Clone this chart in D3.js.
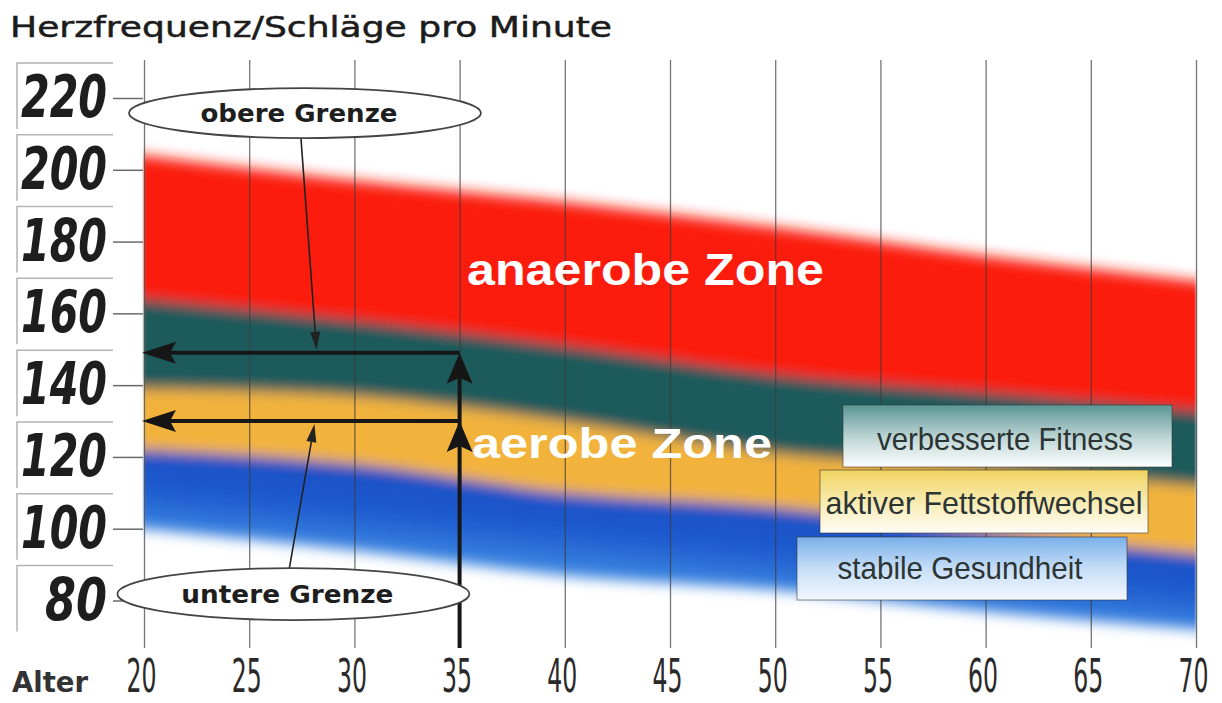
<!DOCTYPE html>
<html>
<head>
<meta charset="utf-8">
<script src="https://cdn.jsdelivr.net/npm/d3@7"></script>
<style>
  html, body { margin: 0; background: #fff; }
  svg { display: block; }
</style>
</head>
<body>
<svg id="chart" width="1222" height="703"></svg>
<script>
// Heart-rate training zones by age (beats per minute)
const ages         = [20, 30, 40, 50, 60, 70];
const anaerobeTop  = [204, 197, 191, 184, 176, 169];
const anaerobeLow  = [164, 158, 151, 143, 138, 133];
const fitnessLow   = [139, 137, 130, 121, 117, 112];
const fatBurnLow   = [122, 118, 110, 106, 99, 93];
const healthLow    = [100, 94, 87, 83, 77, 72];

const yTicks = [80, 100, 120, 140, 160, 180, 200, 220];
const xTicks = [20, 25, 30, 35, 40, 45, 50, 55, 60, 65, 70];

// Worked example: a 35-year-old
const exampleAge  = 35;
const upperLimit  = 149;
const lowerLimit  = 130;

const titleText   = "Herzfrequenz/Schläge pro Minute";
const xAxisLabel  = "Alter";
const zoneNames   = ["anaerobe Zone", "aerobe Zone"];
const limitNames  = ["obere Grenze", "untere Grenze"];
const legendNames = ["verbesserte Fitness", "aktiver Fettstoffwechsel", "stabile Gesundheit"];

const svg = d3.select("#chart");
const x = d3.scaleLinear().domain([20, 70]).range([144, 1196]);
const y = d3.scaleLinear().domain([80, 220]).range([600.5, 98]);

const rows = ages.map((a, i) => ({
  age: a, top: anaerobeTop[i], ana: anaerobeLow[i], fit: fitnessLow[i],
  fat: fatBurnLow[i], low: healthLow[i]
}));

const defs = svg.append("defs");
defs.append("filter").attr("id", "soft")
  .attr("x", "-2%").attr("y", "-20%").attr("width", "104%").attr("height", "140%")
  .append("feGaussianBlur").attr("stdDeviation", "1.2 7");

// blue lightens towards its lower edge: a vertical gradient skewed along the band's slope
const last = ages.length - 1;
const xa = x(ages[0]), xb = x(ages[last]);
const slope = ((y(fatBurnLow[last]) + y(healthLow[last])) - (y(fatBurnLow[0]) + y(healthLow[0]))) / 2 / (xb - xa);
const skewDeg = Math.atan(slope) * 180 / Math.PI;
const blueGrad = defs.append("linearGradient").attr("id", "blueShade")
  .attr("gradientUnits", "userSpaceOnUse")
  .attr("gradientTransform", `skewY(${skewDeg})`)
  .attr("x1", 0).attr("x2", 0)
  .attr("y1", y(fatBurnLow[0]) - slope * xa)
  .attr("y2", y(healthLow[0]) - slope * xa);
blueGrad.append("stop").attr("offset", "0%").attr("stop-color", "#1b50c4");
blueGrad.append("stop").attr("offset", "50%").attr("stop-color", "#1e5bcf");
blueGrad.append("stop").attr("offset", "100%").attr("stop-color", "#3a84e0");

// ---- coloured zone bands ----
const bands = [
  { hi: "top", lo: "ana", color: "#fb1b0e" },
  { hi: "ana", lo: "fit", color: "#1b5a5c" },
  { hi: "fit", lo: "fat", color: "#f2b33c" },
  { hi: "fat", lo: "low", color: "url(#blueShade)" }
];
const gBands = svg.append("g").attr("filter", "url(#soft)");
bands.forEach(b => {
  const area = d3.area()
    .x(d => x(d.age))
    .y0(d => y(d[b.lo]))
    .y1(d => y(d[b.hi]))
    .curve(d3.curveMonotoneX);
  gBands.append("path").datum(rows).attr("d", area).attr("fill", b.color);
});

// ---- y axis with framed LCD-style labels ----
const gFrames = svg.append("g");
yTicks.forEach(v => {
  const t = y(v) - 35;
  gFrames.append("path")
    .attr("d", `M17,${t + 66}V${t}H113`)
    .attr("fill", "none").attr("stroke", "#b4b4b4").attr("stroke-width", 1.5);
});
const yAxis = svg.append("g").attr("transform", "translate(143,0)")
  .call(d3.axisLeft(y).tickValues(yTicks).tickSize(30).tickPadding(6));
yAxis.select(".domain").remove();
yAxis.selectAll(".tick line").attr("stroke", "#6a6a6a").attr("stroke-width", 1.5);
yAxis.selectAll(".tick text")
  .attr("font-family", "'DejaVu Sans Condensed', 'DejaVu Sans', sans-serif")
  .attr("font-style", "italic")
  .attr("font-weight", "bold")
  .attr("font-size", 58)
  .attr("fill", "#1e1e1e")
  .attr("textLength", d => String(d).length === 3 ? 86 : 62)
  .attr("lengthAdjust", "spacingAndGlyphs");

// ---- x axis: vertical grid lines + tall condensed age labels ----
const xAxis = svg.append("g").attr("transform", "translate(0,648)")
  .call(d3.axisBottom(x).tickValues(xTicks).tickSize(-588).tickPadding(0).tickFormat(d3.format("d")));
xAxis.select(".domain").remove();
xAxis.selectAll(".tick line").attr("stroke", "#3a3a3a").attr("stroke-opacity", 0.7).attr("stroke-width", 1.3);
const stretch = 1.15;
xAxis.selectAll(".tick text")
  .attr("x", -3)
  .attr("y", 44 / stretch).attr("dy", null)
  .attr("transform", `scale(1,${stretch})`)
  .attr("font-family", "'DejaVu Sans Condensed', 'DejaVu Sans', sans-serif")
  .attr("font-size", 40)
  .attr("fill", "#2a2a2a")
  .attr("textLength", 30)
  .attr("lengthAdjust", "spacingAndGlyphs");

svg.append("text").attr("x", 12).attr("y", 692)
  .attr("font-family", "'DejaVu Sans', sans-serif").attr("font-weight", "bold")
  .attr("font-size", 28).attr("fill", "#333")
  .attr("textLength", 76).attr("lengthAdjust", "spacingAndGlyphs")
  .text(xAxisLabel);

svg.append("text").attr("x", 10).attr("y", 37)
  .attr("font-family", "'DejaVu Sans', sans-serif")
  .attr("font-size", 28).attr("fill", "#1c1c1c")
  .attr("stroke", "#1c1c1c").attr("stroke-width", 0.5)
  .attr("textLength", 602).attr("lengthAdjust", "spacingAndGlyphs")
  .text(titleText);

// ---- zone names ----
const zoneFont = "'Liberation Sans', Arial, sans-serif";
svg.append("text").attr("x", 467).attr("y", 285)
  .attr("font-family", zoneFont).attr("font-weight", "bold").attr("font-size", 44)
  .attr("fill", "#fff").attr("textLength", 357).attr("lengthAdjust", "spacingAndGlyphs")
  .text(zoneNames[0]);
svg.append("text").attr("x", 472).attr("y", 458)
  .attr("font-family", zoneFont).attr("font-weight", "bold").attr("font-size", 42)
  .attr("fill", "#fff").attr("textLength", 300).attr("lengthAdjust", "spacingAndGlyphs")
  .text(zoneNames[1]);

// ---- legend boxes ----
const legendBoxes = [
  { x: 843, y: 405, w: 329, h: 62, base: 450, cx: 1005, tl: 256, stops: ["#5a9594", "#b9d3d2", "#ffffff"] },
  { x: 820, y: 470, w: 328, h: 63, base: 514, cx: 984, tl: 317, stops: ["#f0d35f", "#f8ebb0", "#fffdf6"] },
  { x: 797, y: 537, w: 330, h: 63, base: 579, cx: 960, tl: 245, stops: ["#79afea", "#c6def7", "#f3f8ff"] }
];
legendBoxes.forEach((b, i) => {
  const gid = "lg" + i;
  const grad = defs.append("linearGradient").attr("id", gid)
    .attr("x1", 0).attr("y1", 0).attr("x2", 0).attr("y2", 1);
  grad.append("stop").attr("offset", "0%").attr("stop-color", b.stops[0]);
  grad.append("stop").attr("offset", "50%").attr("stop-color", b.stops[1]);
  grad.append("stop").attr("offset", "100%").attr("stop-color", b.stops[2]);
  svg.append("rect").attr("x", b.x).attr("y", b.y).attr("width", b.w).attr("height", b.h)
    .attr("fill", `url(#${gid})`).attr("stroke", "#3a3a3a").attr("stroke-opacity", 0.6).attr("stroke-width", 1);
  svg.append("text").attr("x", b.cx).attr("y", b.base).attr("text-anchor", "middle")
    .attr("font-family", zoneFont).attr("font-size", 32).attr("fill", "#2c3434")
    .attr("textLength", b.tl).attr("lengthAdjust", "spacingAndGlyphs")
    .text(legendNames[i]);
});

// ---- worked-example arrows ----
const ink = "#161616";
const gArrows = svg.append("g");
const xe = x(exampleAge), x0 = x(20);
[upperLimit, lowerLimit].forEach(v => {
  gArrows.append("line").attr("x1", xe).attr("x2", x0 + 20).attr("y1", y(v)).attr("y2", y(v))
    .attr("stroke", ink).attr("stroke-width", 4);
  gArrows.append("path")
    .attr("d", `M${x0 - 2},${y(v)}L${x0 + 32},${y(v) - 11}L${x0 + 26},${y(v)}L${x0 + 32},${y(v) + 11}Z`)
    .attr("fill", ink);
  gArrows.append("path")
    .attr("d", `M${xe},${y(v)}L${xe - 13},${y(v) + 31}L${xe},${y(v) + 25}L${xe + 13},${y(v) + 31}Z`)
    .attr("fill", ink);
});
gArrows.append("line").attr("x1", xe).attr("x2", xe).attr("y1", 648).attr("y2", y(upperLimit) + 10)
  .attr("stroke", ink).attr("stroke-width", 4);

// ---- callout ellipses for the limits ----
const callouts = [
  { age: 27.65, val: 215.8, rx: 176, ry: 25, label: limitNames[0], tl: 197, pointerAge: 28.2, pointerEnd: upperLimit },
  { age: 27.1, val: 81.8, rx: 176, ry: 26, label: limitNames[1], tl: 212, pointerAge: 28.1, pointerEnd: lowerLimit }
];
callouts.forEach((c, i) => {
  const cx = x(c.age), cy = y(c.val);
  const px = x(c.pointerAge), py = y(c.pointerEnd);
  const sy = i === 0 ? cy + c.ry : cy - c.ry;
  const sx = cx - 4;
  // leader line with small arrowhead at the limit line
  const tipY = i === 0 ? py - 3 : py + 3;
  const ang = Math.atan2(tipY - sy, px - sx);
  const hl = 18, hw = 5;
  const bx = px - hl * Math.cos(ang), by = tipY - hl * Math.sin(ang);
  const nx = -Math.sin(ang) * hw, ny = Math.cos(ang) * hw;
  svg.append("line").attr("x1", sx).attr("y1", sy).attr("x2", bx).attr("y2", by)
    .attr("stroke", "#222").attr("stroke-width", 1.6);
  svg.append("path").attr("d", `M${px},${tipY}L${bx + nx},${by + ny}L${bx - nx},${by - ny}Z`).attr("fill", "#222");
  svg.append("ellipse").attr("cx", cx).attr("cy", cy).attr("rx", c.rx).attr("ry", c.ry)
    .attr("fill", "#fff").attr("stroke", "#444").attr("stroke-width", 1.8);
  svg.append("text").attr("x", cx - 6).attr("y", cy + 9).attr("text-anchor", "middle")
    .attr("font-family", "'DejaVu Sans', sans-serif").attr("font-weight", "bold")
    .attr("font-size", 24).attr("fill", "#1e1e1e")
    .attr("textLength", c.tl).attr("lengthAdjust", "spacingAndGlyphs")
    .text(c.label);
});
</script>
</body>
</html>
